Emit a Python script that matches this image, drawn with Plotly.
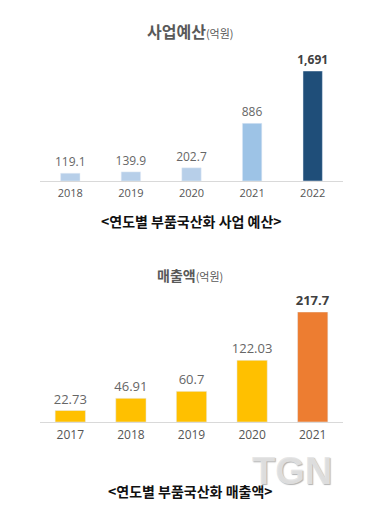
import plotly.graph_objects as go

# Top chart: 사업예산 (억원)
budget_years = ["2018", "2019", "2020", "2021", "2022"]
budget_values = [119.1, 139.9, 202.7, 886, 1691]

# Bottom chart: 매출액 (억원)
sales_years = ["2017", "2018", "2019", "2020", "2021"]
sales_values = [22.73, 46.91, 60.7, 122.03, 217.7]

W, H = 374, 505
budget_colors = ["#b7cfe9", "#b7cfe9", "#b7cfe9", "#9dc3e6", "#1f4e79"]
sales_colors = ["#ffc000", "#ffc000", "#ffc000", "#ffc000", "#ed7d31"]


def labels(vals):
    out = []
    for i, v in enumerate(vals):
        t = f"{v:,}"
        if i == len(vals) - 1:
            t = f"<b>{t}</b>"
        out.append(t)
    return out


def py(p):
    return 1 - p / H


fig = go.Figure()
fig.add_trace(go.Bar(
    x=budget_years, y=budget_values, marker_color=budget_colors,
    width=0.32, text=labels(budget_values), textposition="outside",
    constraintext="none",
    textfont=dict(size=12, color=["#666666"] * 4 + ["#404040"],
                  family="Open Sans, Noto Sans CJK KR, sans-serif"),
    cliponaxis=False, xaxis="x", yaxis="y", hoverinfo="skip",
))
fig.add_trace(go.Bar(
    x=sales_years, y=sales_values, marker_color=sales_colors,
    width=0.5, text=labels(sales_values), textposition="outside",
    constraintext="none",
    textfont=dict(size=13, color=["#666666"] * 4 + ["#404040"],
                  family="Open Sans, Noto Sans CJK KR, sans-serif"),
    cliponaxis=False, xaxis="x2", yaxis="y2", hoverinfo="skip",
))

xd = [32 / W, 335 / W]
axis_common = dict(
    showline=True, linecolor="#d9d9d9", linewidth=1, showgrid=False,
    zeroline=False, ticks="", range=[-0.5, 4.5], fixedrange=True,
)
fig.update_layout(
    width=W, height=H, margin=dict(l=0, r=0, t=0, b=0),
    paper_bgcolor="white", plot_bgcolor="white", showlegend=False,
    xaxis=dict(domain=xd, anchor="y", ticklabelstandoff=2,
               tickfont=dict(size=11, color="#555555",
                             family="Open Sans, sans-serif"), **axis_common),
    yaxis=dict(domain=[py(173), py(63)], range=[0, max(budget_values)],
               visible=False, fixedrange=True),
    xaxis2=dict(domain=xd, anchor="y2", ticklabelstandoff=2,
                tickfont=dict(size=12, color="#555555",
                              family="Open Sans, sans-serif"), **axis_common),
    yaxis2=dict(domain=[py(414), py(304)], range=[0, max(sales_values)],
                visible=False, fixedrange=True),
    font=dict(family="Noto Sans CJK KR, sans-serif"),
)

ann = [
    dict(text="<b>사업예산</b><span style='font-size:11px'>(억원)</span>",
         x=182 / W, y=py(23), font=dict(size=16, color="#595959")),
    dict(text="<b>매출액</b><span style='font-size:11px'>(억원)</span>",
         x=182 / W, y=py(267), font=dict(size=14, color="#595959")),
    dict(text="<b>&lt;연도별 부품국산화 사업 예산&gt;</b>",
         x=183 / W, y=py(213), font=dict(size=14, color="#111111")),
    dict(text="<b>&lt;연도별 부품국산화 매출액&gt;</b>",
         x=182 / W, y=py(483), font=dict(size=14, color="#111111")),
    dict(text="<b>TGN</b>", x=284 / W, y=py(463),
         font=dict(size=38, color="rgba(228,228,228,0.9)",
                   family="Liberation Sans, Arial, sans-serif",
                   shadow="1px 1px 1px #aaaaaa")),
]
for a in ann:
    a.update(xref="paper", yref="paper", showarrow=False,
             xanchor="center", yanchor="middle")
fig.update_layout(annotations=ann)

fig.write_html("out.html")
